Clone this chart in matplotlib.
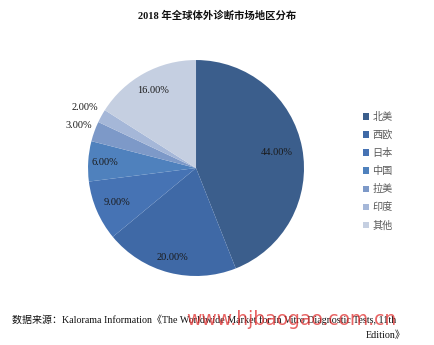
import numpy as np
import matplotlib
matplotlib.use("Agg")
import matplotlib.pyplot as plt

plt.rcParams['font.family'] = ['Liberation Serif', 'Noto Sans CJK SC']

# 地区分布 (%)
regions = ["北美", "西欧", "日本", "中国", "拉美", "印度", "其他"]
shares = [44, 20, 9, 6, 3, 2, 16]
colors = ["#3b5e8c", "#3f69a6", "#4673b4", "#4f81bd", "#7d99c8", "#a5b7d8", "#c5cfe1"]
label_dist = [0.76, 0.86, 0.80, 0.85, 1.15, 1.17, 0.82]

fig = plt.figure(figsize=(4.34, 3.45), dpi=100)
ax = fig.add_axes([0.2028, 0.2, 0.4977, 0.626])

wedges, _ = ax.pie(shares, colors=colors, startangle=90, counterclock=False,
                   radius=1.0)
ax.set_aspect("equal")
ax.set_xlim(-1, 1)
ax.set_ylim(-1, 1)

for w, v, d in zip(wedges, shares, label_dist):
    ang = np.deg2rad((w.theta1 + w.theta2) / 2)
    ax.text(d * np.cos(ang), d * np.sin(ang), f"{v:.2f}%",
            ha="center", va="center", fontsize=7.5, color="#1a1a1a")

fig.text(0.5, 0.955, "2018 年全球体外诊断市场地区分布", ha="center", va="center",
         fontsize=7.5, fontweight="bold", color="#111111")

leg = fig.legend(wedges, regions, loc="upper left", bbox_to_anchor=(0.825, 0.69),
                 frameon=False, fontsize=7.3, handlelength=0.6, handleheight=0.6,
                 handletextpad=0.3, labelspacing=0.8, borderpad=0)
for t in leg.get_texts():
    t.set_color("#595959")

fig.text(0.028, 0.073,
         "数据来源：Kalorama Information《The Worldwide Market for In Vitro Diagnostic Tests, 11th",
         ha="left", va="center", fontsize=7.2, color="#111111")
fig.text(0.935, 0.028, "Edition》", ha="right", va="center", fontsize=7.2, color="#111111")

# 水印
fig.text(0.43, 0.075, "www.hjbaogao.com.cn", ha="left", va="center", fontsize=13.5,
         family="DejaVu Sans", color="#e03030", alpha=0.75)

fig.savefig("out.png", dpi=100, facecolor="white")
